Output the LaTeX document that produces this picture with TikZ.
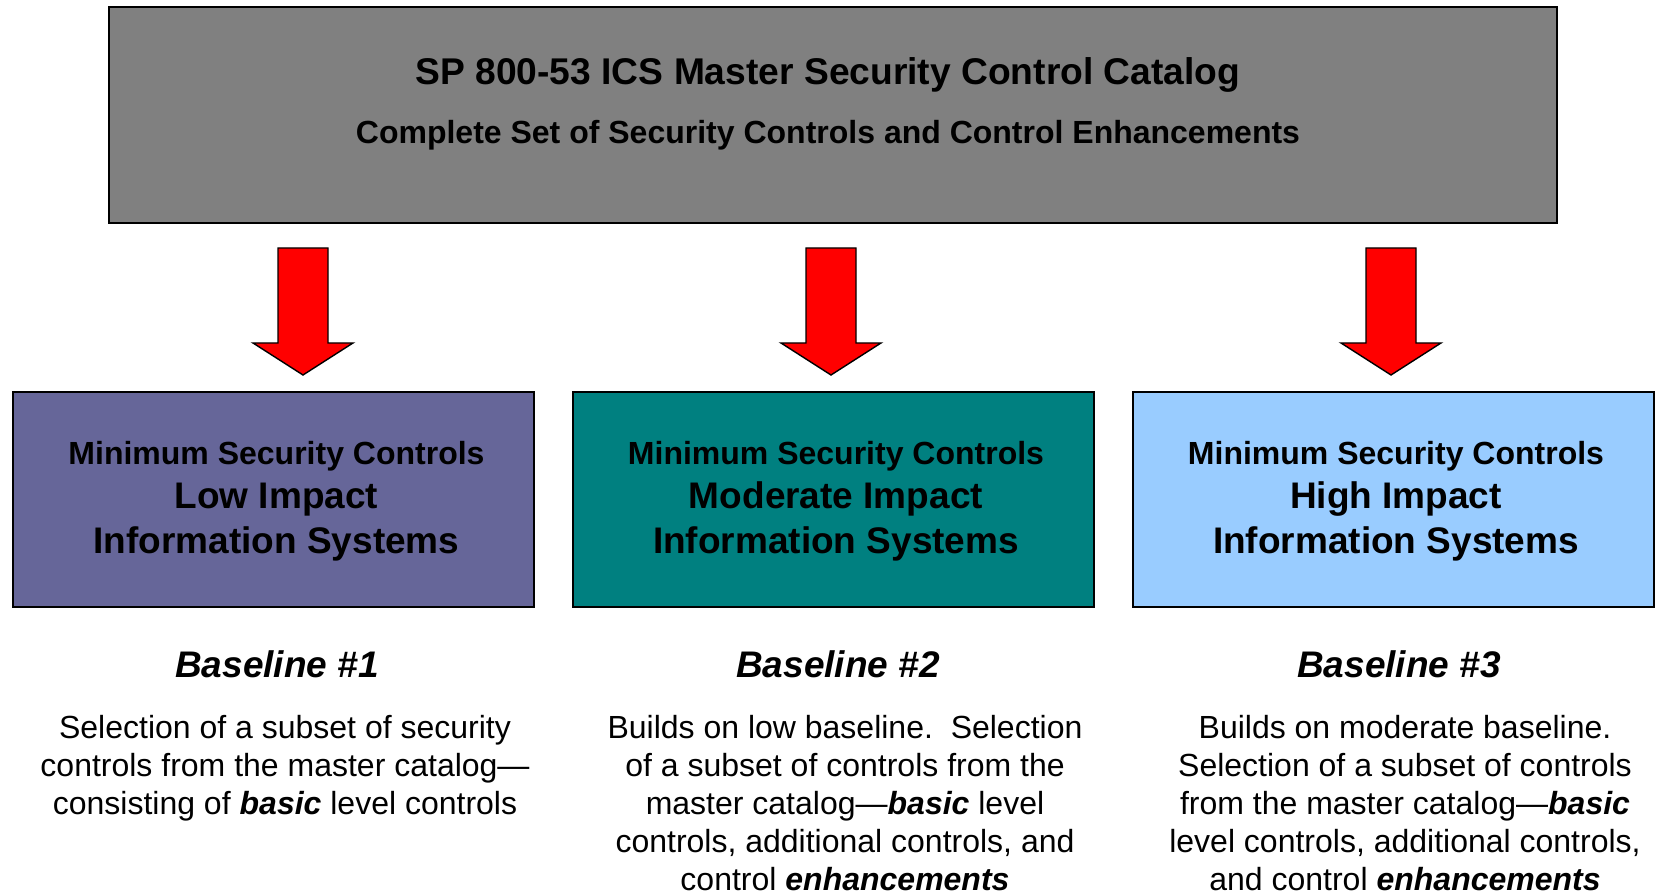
\documentclass[tikz,border=0pt]{standalone}
\usepackage{fontspec}
\setmainfont{Liberation Sans}
\definecolor{catalog}{HTML}{808080}
\definecolor{lowbox}{HTML}{666699}
\definecolor{modbox}{HTML}{008080}
\definecolor{highbox}{HTML}{99CCFF}
\definecolor{arrowred}{HTML}{FF0000}
\newcommand{\bbi}[1]{\textbf{\textit{#1}}}
\begin{document}
\begin{tikzpicture}[x=0.5pt,y=-0.5pt,
		catbox/.style={draw=black, line width=1pt, fill=catalog, minimum width=724pt, minimum height=108pt},
		impactbox/.style={draw=black, line width=1pt, minimum width=260.5pt, minimum height=107.5pt},
		impacttext/.style={inner sep=0pt, align=center, font=\bfseries\fontsize{18.5}{22.5}\selectfont},
		redarrow/.style={draw=black, line width=0.7pt, fill=arrowred},
		baselabel/.style={font=\bfseries\itshape\fontsize{18.5}{22}\selectfont, inner sep=0pt},
		desc/.style={anchor=north, inner sep=0pt, align=center, font=\fontsize{16}{19}\selectfont}]
	\useasboundingbox (0,0) rectangle (1656,892);
	% master catalog
	\node [catbox] (catalog) at (833,115) {};
	\node [font=\bfseries\fontsize{18.6}{22}\selectfont, inner sep=0pt] (title) at (828,75) {SP 800-53 ICS Master Security Control Catalog};
	\node [font=\bfseries\fontsize{16}{19}\selectfont, inner sep=0pt] (subtitle) at (828,135) {Complete Set of Security Controls and Control Enhancements};
	% arrows
	\draw [redarrow] (278,248) -- (328,248) -- (328,343) -- (353,343) -- (303,375) -- (253,343) -- (278,343) -- cycle;
	\draw [redarrow] (806,248) -- (856,248) -- (856,343) -- (881,343) -- (831,375) -- (781,343) -- (806,343) -- cycle;
	\draw [redarrow] (1366,248) -- (1416,248) -- (1416,343) -- (1441,343) -- (1391,375) -- (1341,343) -- (1366,343) -- cycle;
	% baselines
	\node [impactbox, fill=lowbox] (low) at (273.5,499.5) {};
	\node [impactbox, fill=modbox] (moderate) at (833,499.5) {};
	\node [impactbox, fill=highbox] (high) at (1393,499.5) {};
	\node [impacttext] (lowtext) at ([xshift=1.5pt,yshift=-1pt]low.center) {{\fontsize{16}{19}\selectfont Minimum Security Controls}\\[-0.6pt] Low Impact\\ Information Systems};
	\node [impacttext] (moderatetext) at ([xshift=1.5pt,yshift=-1pt]moderate.center) {{\fontsize{16}{19}\selectfont Minimum Security Controls}\\[-0.6pt] Moderate Impact\\ Information Systems};
	\node [impacttext] (hightext) at ([xshift=1.5pt,yshift=-1pt]high.center) {{\fontsize{16}{19}\selectfont Minimum Security Controls}\\[-0.6pt] High Impact\\ Information Systems};
	\node [baselabel] (baseone) at (277,664) {Baseline \#1};
	\node [baselabel] (basetwo) at (838,664) {Baseline \#2};
	\node [baselabel] (basethree) at (1399,664) {Baseline \#3};
	\node [desc] (descone) at (285,715) {Selection of a subset of security\\ controls from the master catalog—\\ consisting of \bbi{basic} level controls};
	\node [desc] (desctwo) at (845,715) {Builds on low baseline.\ \ Selection\\ of a subset of controls from the\\ master catalog—\bbi{basic} level\\ controls, additional controls, and\\ control \bbi{enhancements}};
	\node [desc] (descthree) at (1405,715) {Builds on moderate baseline.\\ Selection of a subset of controls\\ from the master catalog—\bbi{basic}\\ level controls, additional controls,\\ and control \bbi{enhancements}};
\end{tikzpicture}
\end{document}
